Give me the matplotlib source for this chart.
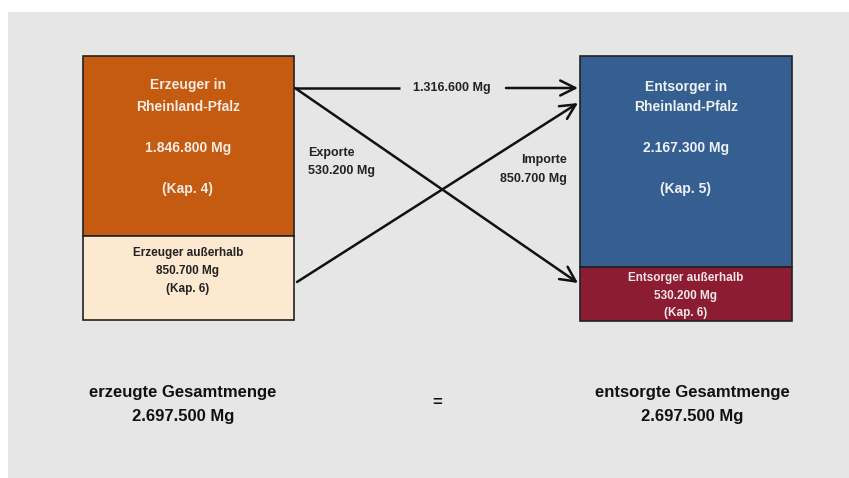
import matplotlib.pyplot as plt
from matplotlib.patches import Rectangle, FancyArrowPatch

plt.rcParams['font.family'] = ['Liberation Sans Narrow', 'Liberation Sans', 'DejaVu Sans']

# Mengen in Mg
erzeuger_rlp = 1846800
erzeuger_aussen = 850700
entsorger_rlp = 2167300
entsorger_aussen = 530200
inland = 1316600
exporte = 530200
importe = 850700
gesamt = 2697500

def mg(v):
    return '{:,}'.format(v).replace(',', '.') + ' Mg'

c_orange = '#c55a11'
c_peach = '#fde9d0'
c_blue = '#365f91'
c_red = '#8c1c32'
c_bg = '#e6e6e6'

fig = plt.figure(figsize=(8.49, 4.78), dpi=100)
fig.patch.set_facecolor('white')
ax = fig.add_axes([0, 0, 1, 1])
ax.set_xlim(0, 849)
ax.set_ylim(478, 0)
ax.axis('off')

ax.add_patch(Rectangle((8, 12), 841, 466, facecolor=c_bg, edgecolor='none'))

# linke Seite: Erzeuger
ax.add_patch(Rectangle((83, 56), 211, 180, facecolor=c_orange, edgecolor='#222222', lw=1.2))
ax.add_patch(Rectangle((83, 236), 211, 84, facecolor=c_peach, edgecolor='#222222', lw=1.2))
# rechte Seite: Entsorger
ax.add_patch(Rectangle((580, 56), 212, 211, facecolor=c_blue, edgecolor='#222222', lw=1.2))
ax.add_patch(Rectangle((580, 267), 212, 54, facecolor=c_red, edgecolor='#222222', lw=1.2))

kw = dict(ha='center', va='center', fontweight='bold')
light = '#f7ece4'
ax.text(188, 85, 'Erzeuger in', color=light, fontsize=10, **kw)
ax.text(188, 107, 'Rheinland-Pfalz', color=light, fontsize=10, **kw)
ax.text(188, 148, mg(erzeuger_rlp), color=light, fontsize=10, **kw)
ax.text(188, 189, '(Kap. 4)', color=light, fontsize=10, **kw)
ax.text(188, 253, 'Erzeuger außerhalb', color='#222222', fontsize=8.5, **kw)
ax.text(188, 271, mg(erzeuger_aussen), color='#222222', fontsize=8.5, **kw)
ax.text(188, 289, '(Kap. 6)', color='#222222', fontsize=8.5, **kw)

lightb = '#eef2f8'
ax.text(686, 87, 'Entsorger in', color=lightb, fontsize=10, **kw)
ax.text(686, 107, 'Rheinland-Pfalz', color=lightb, fontsize=10, **kw)
ax.text(686, 148, mg(entsorger_rlp), color=lightb, fontsize=10, **kw)
ax.text(686, 189, '(Kap. 5)', color=lightb, fontsize=10, **kw)
ax.text(686, 278, 'Entsorger außerhalb', color='#f5e6ea', fontsize=8.5, **kw)
ax.text(686, 296, mg(entsorger_aussen), color='#f5e6ea', fontsize=8.5, **kw)
ax.text(686, 313, '(Kap. 6)', color='#f5e6ea', fontsize=8.5, **kw)

# Pfeile
akw = dict(arrowstyle='->,head_length=0.9,head_width=0.45', color='#111111', lw=1.8,
           shrinkA=0, shrinkB=0, mutation_scale=12)
ax.plot([295, 400], [88, 88], color='#111111', lw=1.8, solid_capstyle='butt')
ax.add_patch(FancyArrowPatch((506, 88), (578, 88), **akw))
ax.add_patch(FancyArrowPatch((295, 88), (578, 283), **akw))
ax.add_patch(FancyArrowPatch((297, 282), (578, 103), **akw))

ax.text(452, 88, mg(inland), color='#222222', fontsize=9, **kw)
ax.text(308, 153, 'Exporte', color='#222222', fontsize=9, ha='left', va='center', fontweight='bold')
ax.text(308, 171, mg(exporte), color='#222222', fontsize=9, ha='left', va='center', fontweight='bold')
ax.text(567, 160, 'Importe', color='#222222', fontsize=9, ha='right', va='center', fontweight='bold')
ax.text(567, 179, mg(importe), color='#222222', fontsize=9, ha='right', va='center', fontweight='bold')

# Summen
ax.text(183, 393, 'erzeugte Gesamtmenge', color='#111111', fontsize=12, **kw)
ax.text(183, 416, mg(gesamt), color='#111111', fontsize=12, **kw)
ax.text(437, 403, '=', color='#111111', fontsize=12, **kw)
ax.text(692, 393, 'entsorgte Gesamtmenge', color='#111111', fontsize=12, **kw)
ax.text(692, 416, mg(gesamt), color='#111111', fontsize=12, **kw)

fig.savefig('out.png', dpi=100)
